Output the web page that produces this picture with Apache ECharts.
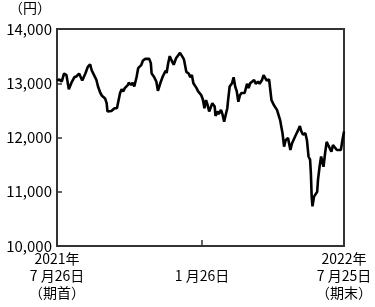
<!DOCTYPE html>
<html>
<head>
<meta charset="utf-8">
<script src="https://cdn.jsdelivr.net/npm/echarts@6/dist/echarts.min.js"></script>
<style>
  html, body { margin: 0; padding: 0; background: #fff; }
  #chart { width: 375px; height: 307px; }
</style>
</head>
<body>
<div id="chart"></div>
<script>
// days since 2021-07-26 (期首)
const days = [
  0, 3, 6, 9, 12, 15, 19, 22, 25, 28,
  30, 32, 36, 39, 42, 44, 47, 50, 52, 55,
  57, 61, 63, 64, 66, 69, 73, 76, 78, 80,
  82, 84, 86, 90, 91, 94, 96, 98, 101, 103,
  107, 109, 112, 117, 119, 120, 123, 126, 128, 131,
  134, 136, 138, 139, 141, 143, 145, 148, 151, 154,
  156, 159, 161, 164, 167, 169, 171, 173, 177, 179,
  181, 183, 185, 187, 189, 191, 193, 195, 197, 200,
  201, 204, 205, 208, 210, 212, 214, 216, 217, 219,
  222, 224, 226, 228, 230, 232, 234, 236, 238, 241,
  243, 245, 247, 250, 252, 255, 257, 260, 262, 264,
  266, 269, 272, 275, 279, 283, 286, 288, 290, 293,
  296, 298, 300, 303, 306, 308, 310, 312, 315, 317,
  319, 321, 322, 323, 324, 326, 328, 330, 331, 333,
  335, 337, 338, 340, 342, 345, 348, 350, 355, 357,
  360, 362, 364
];
// 基準価額（円）
const prices = [
  13050, 13070, 13030, 13180, 13150, 12890, 13030, 13110, 13130, 13180,
  13210, 13050, 13180, 13300, 13350, 13240, 13150, 13060, 12940, 12820,
  12770, 12720, 12630, 12480, 12490, 12490, 12540, 12540, 12560, 12820,
  12890, 12850, 12910, 12970, 13010, 12970, 13010, 12940, 13120, 13280,
  13340, 13420, 13450, 13450, 13370, 13180, 13120, 13030, 12860, 13000,
  13120, 13180, 13230, 13190, 13370, 13500, 13430, 13340, 13460, 13520,
  13560, 13490, 13440, 13210, 13180, 13110, 13150, 13000, 12910, 12850,
  12820, 12780, 12700, 12540, 12690, 12600, 12480, 12450, 12630, 12570,
  12400, 12480, 12430, 12510, 12420, 12290, 12420, 12540, 12690, 12940,
  13000, 13110, 12940, 12850, 12660, 12780, 12820, 12840, 12820, 12990,
  12910, 13000, 12970, 13060, 12990, 13030, 12990, 13060, 13150, 13100,
  13050, 13070, 12690, 12600, 12510, 12320, 12080, 11830, 11950, 11990,
  11770, 11890, 11920, 12050, 12140, 12210, 12110, 12050, 12080, 11950,
  11650, 11590, 11340, 10910, 10730, 10910, 10940, 11000, 11220, 11460,
  11650, 11680, 11460, 11710, 11920, 11830, 11740, 11860, 11770, 11770,
  11770, 11950, 12110
];
const xTickDays = [0, 184, 364];
const xTickLabels = ["2021年\n7 月26日\n（期首）", "\n1 月26日", "2022年\n7 月25日\n（期末）"];
const yTicks = [10000, 11000, 12000, 13000, 14000];

const font = "'Noto Sans CJK JP', sans-serif";
const chart = echarts.init(document.getElementById("chart"));

const options = {
  animation: false,
  textStyle: { fontFamily: font, color: "#000" },
  title: {
    text: "（円）",
    left: 9,
    top: 1,
    padding: 0,
    textStyle: { fontSize: 14, fontWeight: "normal", color: "#000", fontFamily: font },
  },
  grid: {
    left: 57,
    right: 31,
    top: 29,
    bottom: 61,
    show: true,
    borderColor: "#333",
    borderWidth: 2,
  },
  xAxis: {
    type: "value",
    min: 0,
    max: 364,
    splitLine: { show: false },
    axisLine: { show: true, lineStyle: { color: "#333", width: 2 } },
    axisTick: {
      show: true,
      inside: true,
      length: 6,
      customValues: [184],
      lineStyle: { color: "#333", width: 1.5 },
    },
    axisLabel: {
      customValues: xTickDays,
      margin: 4,
      fontSize: 14,
      lineHeight: 17,
      color: "#000",
      formatter: (v) => xTickLabels[xTickDays.indexOf(v)],
    },
  },
  yAxis: {
    type: "value",
    min: 10000,
    max: 14000,
    interval: 1000,
    splitLine: { show: false },
    axisLine: { show: true, lineStyle: { color: "#333", width: 2 } },
    axisTick: { show: true, inside: true, length: 5, lineStyle: { color: "#333", width: 1.5 } },
    axisLabel: {
      margin: 5,
      fontSize: 15,
      color: "#000",
      formatter: (v) => (yTicks.includes(v) ? v.toLocaleString("en-US") : ""),
    },
  },
  series: [
    {
      type: "line",
      data: days.map((d, i) => [d, prices[i]]),
      showSymbol: false,
      lineStyle: { color: "#000", width: 2.6 },
    },
  ],
};
chart.setOption(options);
</script>
</body>
</html>
